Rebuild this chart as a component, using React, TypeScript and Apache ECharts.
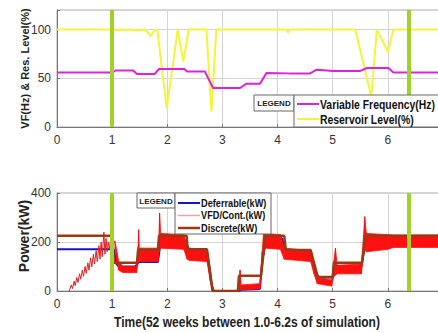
import React, { useEffect, useRef } from 'react';
import * as echarts from 'echarts';

const FONT = '"Liberation Sans", Arial, sans-serif';

// Green vertical marker times
const markerTimes = [1, 6.38];

// Top panel: Variable Frequency (Hz)
const vfT = [0, 1.01, 1.06, 1.38, 1.45, 1.77, 1.85, 2.31, 2.36, 2.68, 2.83, 3.32, 3.43, 3.68, 3.8, 4.2, 4.59, 4.71, 5.01, 5.5, 5.62, 6.01, 6.1, 7];
const vfV = [56, 56, 58, 58, 54.3, 54.3, 59.5, 59.5, 57, 57, 40, 40, 44.3, 44.3, 55.5, 55, 55, 58.8, 57.5, 57.5, 60.5, 60.5, 56, 56];

// Top panel: Reservoir Level (%)
const resT = [0, 1.05, 1.1, 1.15, 1.25, 1.35, 1.45, 1.55, 1.6, 1.7, 1.78, 1.82, 1.99, 2.19, 2.29, 2.39, 2.71, 2.8, 2.89, 4.15, 4.19, 4.23, 5.41, 5.7, 5.8, 6.0, 6.1, 7];
const resV = [100, 100, 99, 100, 99.5, 100, 99, 99.5, 100, 93, 100, 99, 19, 100, 67, 100, 100, 16, 100, 100, 97, 100, 100, 31, 100, 77, 100, 100];

// Bottom panel: Deferrable (kW)
const defT = [0, 1.03, 1.08, 1.12, 1.42, 1.48, 1.83, 1.88, 1.92, 2.33, 2.4, 2.72, 2.8, 2.84, 3.3, 3.33, 3.68, 3.72, 3.78, 3.82, 4.08, 4.15, 4.6, 4.68, 4.75, 5.0, 5.03, 5.06, 5.52, 5.58, 5.62, 7];
const defV = [170, 170, 110, 100, 100, 118, 118, 200, 205, 205, 165, 160, 30, 0, 0, 5, 8, 120, 200, 215, 215, 165, 160, 80, 55, 55, 95, 100, 100, 180, 208, 208];

// Bottom panel: Discrete (kW)
const disT = [0, 1.0, 1.03, 1.45, 1.47, 1.83, 1.85, 2.35, 2.37, 2.72, 2.82, 3.28, 3.3, 3.7, 3.78, 4.12, 4.15, 4.6, 4.73, 5.0, 5.02, 5.53, 5.6, 7];
const disV = [226, 226, 115, 115, 167, 167, 226, 226, 170, 170, 0, 0, 62, 62, 226, 226, 167, 167, 57, 57, 115, 115, 226, 226];

// Bottom panel: VFD/Cont. (kW) start-up ramp (oscillating)
const rampT = [0.22, 0.26, 0.28, 0.31, 0.33, 0.36, 0.38, 0.41, 0.43, 0.46, 0.48, 0.51, 0.53, 0.56, 0.58, 0.61, 0.63, 0.66, 0.68, 0.71, 0.73, 0.76, 0.78, 0.8, 0.82, 0.85, 0.87, 0.89, 0.91, 0.93, 0.95, 0.97, 0.99, 1.02, 1.05];
const rampV = [0, 25, 10, 40, 22, 55, 35, 70, 48, 85, 60, 100, 72, 115, 85, 135, 98, 150, 110, 165, 120, 185, 130, 200, 140, 240, 150, 215, 160, 200, 170, 210, 185, 205, 195];

// Bottom panel: VFD/Cont. (kW) oscillation band envelopes
const bandT = [1.05, 1.08, 1.12, 1.2, 1.44, 1.46, 1.47, 1.48, 1.49, 1.83, 1.85, 1.86, 1.88, 2.3, 2.36, 2.4, 2.72, 2.78, 2.82, 2.86, 3.3, 3.32, 3.34, 3.68, 3.72, 3.75, 3.78, 4.05, 4.12, 4.6, 4.66, 4.72, 4.98, 5.02, 5.05, 5.08, 5.52, 5.56, 5.58, 5.61, 6.0, 6.1, 7];
const bandLow = [185, 120, 85, 75, 75, 100, 110, 120, 120, 120, 160, 170, 175, 170, 130, 125, 120, 40, 0, 0, 0, 5, 5, 8, 100, 150, 175, 170, 130, 120, 70, 30, 20, 60, 65, 70, 70, 150, 170, 160, 170, 178, 178];
const bandHigh = [205, 170, 120, 100, 100, 130, 180, 250, 175, 175, 230, 318, 235, 230, 185, 175, 170, 90, 20, 0, 0, 85, 25, 30, 160, 250, 235, 230, 175, 165, 110, 55, 45, 120, 175, 105, 110, 230, 303, 235, 230, 228, 228];

const topLegendNames = ['Variable Frequency(Hz)', 'Reservoir Level(%)'];
const bottomLegendNames = ['Deferrable(kW)', 'VFD/Cont.(kW)', 'Discrete(kW)'];

const xTickStep = 1;
const xLabelMax = 6;
const topYTicks = 50;
const bottomYTicks = 200;

const C_VF = '#dd22dd';
const C_RES = '#f4f43a';
const C_DEF = '#1515d0';
const C_VFD = '#ff1010';
const C_DIS = '#9a3a12';
const C_GREEN = '#a2d12a';

const pairs = (t: number[], v: number[]) => t.map((x, i) => [x, v[i]]);

export default function App() {
  const ref = useRef<HTMLDivElement>(null);
  useEffect(() => {
    if (!ref.current) return;
    const chart = echarts.init(ref.current, null, { renderer: 'svg' });
    const gridLine = { lineStyle: { color: '#d4d4d4', width: 1 } };
    const axisLabel = { color: '#333', fontSize: 12, fontFamily: FONT };
    const axisLine = { lineStyle: { color: '#777', width: 1 } };
    const greenMark = {
      silent: true,
      symbol: 'none',
      label: { show: false },
      lineStyle: { color: C_GREEN, width: 4, type: 'solid' },
      data: markerTimes.map((t) => ({ xAxis: t })),
    };
    const xAxisBase = {
      type: 'value',
      min: 0,
      max: 7,
      interval: xTickStep,
      axisLine,
      axisTick: { inside: true, length: 3, lineStyle: { color: '#777' } },
      axisLabel: { ...axisLabel, margin: 7, formatter: (v: number) => (v <= xLabelMax ? String(v) : '') },
      splitLine: { show: true, ...gridLine },
    };
    const legendText = (x: number, y: number, text: string, size: number, sx: number) => ({
      type: 'text',
      x,
      y,
      scaleX: sx,
      z: 22,
      style: { text, fontSize: size, fontWeight: 'bold', fill: '#111', align: 'left', verticalAlign: 'middle', fontFamily: FONT },
    });
    const legendLine = (x: number, y: number, color: string, w: number) => ({
      type: 'line',
      z: 22,
      shape: { x1: x, y1: y, x2: x + 22, y2: y },
      style: { stroke: color, lineWidth: w },
    });
    const bandSegments = bandT.slice(0, -1).map((t, i) => [t, bandLow[i], bandHigh[i], bandT[i + 1], bandLow[i + 1], bandHigh[i + 1]]);

    chart.setOption({
      animation: false,
      backgroundColor: '#fff',
      grid: [
        { left: 57, top: 10, width: 386, height: 117, show: true, borderColor: '#aaa', borderWidth: 1, outerBoundsMode: 'none', containLabel: false },
        { left: 57, top: 193, width: 386, height: 98, show: true, borderColor: '#aaa', borderWidth: 1, outerBoundsMode: 'none', containLabel: false },
      ],
      xAxis: [
        { ...xAxisBase, gridIndex: 0 },
        { ...xAxisBase, gridIndex: 1 },
      ],
      yAxis: [
        {
          type: 'value',
          gridIndex: 0,
          min: 0,
          max: 120,
          interval: topYTicks,
          axisLine: { show: true, ...axisLine },
          axisTick: { show: true, inside: true, length: 3, lineStyle: { color: '#777' } },
          axisLabel: { ...axisLabel, margin: 6, formatter: (v: number) => (v % topYTicks === 0 ? String(v) : '') },
          splitLine: { show: true, ...gridLine },
          name: 'VF(Hz) & Res. Level(%)',
          nameLocation: 'middle',
          nameRotate: 90,
          nameGap: 27,
          nameMoveOverlap: false,
          nameTextStyle: { fontSize: 11, fontWeight: 'bold', color: '#222', fontFamily: FONT },
        },
        {
          type: 'value',
          gridIndex: 1,
          min: 0,
          max: 400,
          interval: bottomYTicks,
          axisLine: { show: true, ...axisLine },
          axisTick: { show: true, inside: true, length: 3, lineStyle: { color: '#777' } },
          axisLabel: { ...axisLabel, margin: 6 },
          splitLine: { show: true, ...gridLine },
          name: 'Power(kW)',
          nameLocation: 'middle',
          nameRotate: 90,
          nameGap: 26,
          nameMoveOverlap: false,
          nameTextStyle: { fontSize: 14, fontWeight: 'bold', color: '#222', fontFamily: FONT, padding: [0, 0, 0, 12] },
        },
      ],
      graphic: [
        // Top legend
        { type: 'rect', z: 20, shape: { x: 254, y: 95, width: 40, height: 16 }, style: { fill: '#fff', stroke: '#666', lineWidth: 1 } },
        { type: 'text', x: 274, y: 103.5, z: 21, style: { text: 'LEGEND', fontSize: 8, fontWeight: 'bold', fill: '#222', align: 'center', verticalAlign: 'middle', fontFamily: FONT } },
        { type: 'rect', z: 20, shape: { x: 294, y: 95, width: 160, height: 32 }, style: { fill: '#fff', stroke: '#666', lineWidth: 1 } },
        legendLine(297, 104, C_VF, 2),
        legendText(320, 104, topLegendNames[0], 13, 0.8),
        legendLine(297, 119, C_RES, 2),
        legendText(320, 119, topLegendNames[1], 13, 0.8),
        // Bottom legend
        { type: 'rect', z: 20, shape: { x: 137, y: 193, width: 38, height: 15 }, style: { fill: '#fff', stroke: '#666', lineWidth: 1 } },
        { type: 'text', x: 156, y: 201, z: 21, style: { text: 'LEGEND', fontSize: 8, fontWeight: 'bold', fill: '#222', align: 'center', verticalAlign: 'middle', fontFamily: FONT } },
        { type: 'rect', z: 20, shape: { x: 175, y: 193, width: 96, height: 41 }, style: { fill: '#fff', stroke: '#666', lineWidth: 1 } },
        legendLine(178, 203, C_DEF, 2),
        legendText(201, 203, bottomLegendNames[0], 11.5, 0.8),
        legendLine(178, 215.5, '#f2a0a0', 1.5),
        legendText(201, 215.5, bottomLegendNames[1], 11.5, 0.8),
        legendLine(178, 228, C_DIS, 2.5),
        legendText(201, 228, bottomLegendNames[2], 11.5, 0.8),
        // X axis title
        {
          type: 'text',
          x: 247,
          y: 322,
          scaleX: 0.86,
          z: 21,
          style: { text: 'Time(52 weeks between 1.0-6.2s of simulation)', fontSize: 14, fontWeight: 'bold', fill: '#222', align: 'center', verticalAlign: 'middle', fontFamily: FONT },
        },
      ],
      series: [
        {
          name: topLegendNames[0],
          type: 'line',
          xAxisIndex: 0,
          yAxisIndex: 0,
          data: pairs(vfT, vfV),
          symbol: 'none',
          lineStyle: { color: C_VF, width: 2 },
          itemStyle: { color: C_VF },
          markLine: greenMark,
          z: 3,
        },
        {
          name: topLegendNames[1],
          type: 'line',
          xAxisIndex: 0,
          yAxisIndex: 0,
          data: pairs(resT, resV),
          symbol: 'none',
          lineStyle: { color: C_RES, width: 2 },
          itemStyle: { color: C_RES },
          z: 2,
        },
        {
          name: bottomLegendNames[0],
          type: 'line',
          xAxisIndex: 1,
          yAxisIndex: 1,
          data: pairs(defT, defV),
          symbol: 'none',
          lineStyle: { color: C_DEF, width: 2 },
          itemStyle: { color: C_DEF },
          markLine: greenMark,
          z: 2,
        },
        {
          name: bottomLegendNames[1],
          type: 'line',
          xAxisIndex: 1,
          yAxisIndex: 1,
          data: pairs(rampT, rampV),
          symbol: 'none',
          lineStyle: { color: '#e02020', width: 1 },
          itemStyle: { color: '#e02020' },
          z: 3,
        },
        {
          name: bottomLegendNames[1],
          type: 'custom',
          xAxisIndex: 1,
          yAxisIndex: 1,
          data: bandSegments,
          encode: { x: [0, 3], y: [1, 2, 4, 5] },
          silent: true,
          clip: true,
          renderItem: (_params: any, api: any) => {
            const a = api.coord([api.value(0), api.value(1)]);
            const b = api.coord([api.value(3), api.value(4)]);
            const c = api.coord([api.value(3), api.value(5)]);
            const d = api.coord([api.value(0), api.value(2)]);
            return {
              type: 'polygon',
              shape: { points: [a, b, c, d] },
              style: { fill: C_VFD, stroke: C_VFD, lineWidth: 0.8 },
            };
          },
          z: 3,
        },
        {
          name: bottomLegendNames[2],
          type: 'line',
          xAxisIndex: 1,
          yAxisIndex: 1,
          data: pairs(disT, disV),
          symbol: 'none',
          lineStyle: { color: C_DIS, width: 2.5 },
          itemStyle: { color: C_DIS },
          z: 4,
        },
      ],
    });
    return () => chart.dispose();
  }, []);
  return <div ref={ref} style={{ position: 'fixed', left: 0, top: 0, width: 438, height: 333 }} />;
}
